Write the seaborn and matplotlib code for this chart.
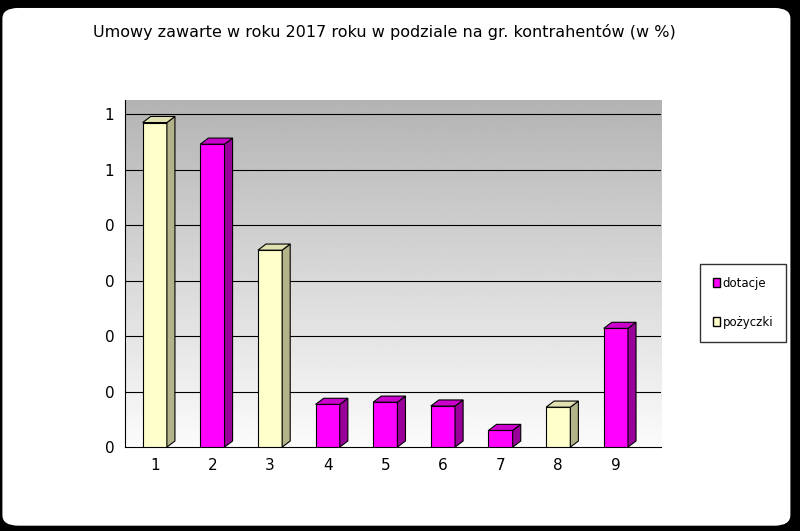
import matplotlib
matplotlib.use("Agg")
import matplotlib.pyplot as plt
import seaborn as sns
import pandas as pd
import numpy as np
from matplotlib.patches import Polygon, FancyBboxPatch, Patch

categories = ["1", "2", "3", "4", "5", "6", "7", "8", "9"]
values = [0.585, 0.546, 0.355, 0.077, 0.081, 0.074, 0.030, 0.072, 0.214]
series = ["pożyczki", "dotacje", "pożyczki", "dotacje", "dotacje", "dotacje", "dotacje", "pożyczki", "dotacje"]
yticks = [0, 0.1, 0.2, 0.3, 0.4, 0.5, 0.6]
yticklabels = ["0", "0", "0", "0", "0", "1", "1"]
front = {"dotacje": "#FF00FF", "pożyczki": "#FFFFCC"}
side = {"dotacje": "#990099", "pożyczki": "#B3B38A"}
topc = {"dotacje": "#CC00CC", "pożyczki": "#E0E0B0"}

df = pd.DataFrame({"cat": categories, "val": values, "ser": series})

sns.set_style("white")
plt.rcParams['font.family'] = ['DejaVu Sans']
plt.rcParams['text.color'] = 'black'
plt.rcParams['xtick.color'] = 'black'
plt.rcParams['ytick.color'] = 'black'
fig = plt.figure(figsize=(8, 5.31), dpi=100)
fig.patch.set_facecolor("black")
fig.patches.append(FancyBboxPatch((0.003, 0.01), 0.985, 0.975, boxstyle="round,pad=0,rounding_size=0.02",
                                  transform=fig.transFigure, facecolor="white", edgecolor="none", zorder=-10))
ax = fig.add_axes([0.156, 0.158, 0.67, 0.653])
ax.set_facecolor("none")
grad = np.linspace(0, 1, 256).reshape(-1, 1)
ax.imshow(grad, extent=[-0.52, 8.78, 0, 0.625], aspect="auto", cmap="gray", vmin=-2.5, vmax=1.05,
          origin="upper", zorder=0)

sns.barplot(data=df, x="cat", y="val", hue="ser", palette=front, dodge=False, width=0.42, saturation=1,
            edgecolor="black", linewidth=0.8, legend=False, ax=ax, zorder=3)
dx, dy = 0.14, 0.011
for p in list(ax.patches):
    x0, w, h = p.get_x(), p.get_width(), p.get_height()
    fc = p.get_facecolor()
    key = "dotacje" if fc[1] < 0.5 else "pożyczki"
    ax.add_patch(Polygon([(x0 + w, 0), (x0 + w + dx, dy), (x0 + w + dx, h + dy), (x0 + w, h)],
                         closed=True, facecolor=side[key], edgecolor="black", lw=0.8, zorder=3))
    ax.add_patch(Polygon([(x0, h), (x0 + dx, h + dy), (x0 + w + dx, h + dy), (x0 + w, h)],
                         closed=True, facecolor=topc[key], edgecolor="black", lw=0.8, zorder=3))
for y in yticks[1:]:
    ax.axhline(y, color="black", lw=0.8, zorder=1)

ax.set_xlim(-0.52, 8.78)
ax.set_ylim(0, 0.625)
ax.set_yticks(yticks)
ax.set_yticklabels(yticklabels, fontsize=11)
ax.tick_params(axis="x", labelsize=11, length=4, direction="out")
ax.tick_params(axis="y", length=4, direction="out")
ax.set_xlabel("")
ax.set_ylabel("")
for s in ["top", "right"]:
    ax.spines[s].set_visible(False)
ax.spines["left"].set_color("black")
ax.spines["bottom"].set_color("black")

fig.text(0.48, 0.94, "Umowy zawarte w roku 2017 roku w podziale na gr. kontrahentów (w %)",
         ha="center", va="center", fontsize=11.5)

handles = [Patch(facecolor=front["dotacje"], edgecolor="black"), Patch(facecolor=front["pożyczki"], edgecolor="black")]
fig.legend(handles, ["dotacje", "pożyczki"], loc="center left", bbox_to_anchor=(0.868, 0.43),
           fontsize=8.5, frameon=True, fancybox=False, edgecolor="black", handlelength=0.6,
           handletextpad=0.2, labelspacing=2.2, borderpad=1.1)
fig.savefig("out.png", dpi=100, facecolor=fig.get_facecolor())
